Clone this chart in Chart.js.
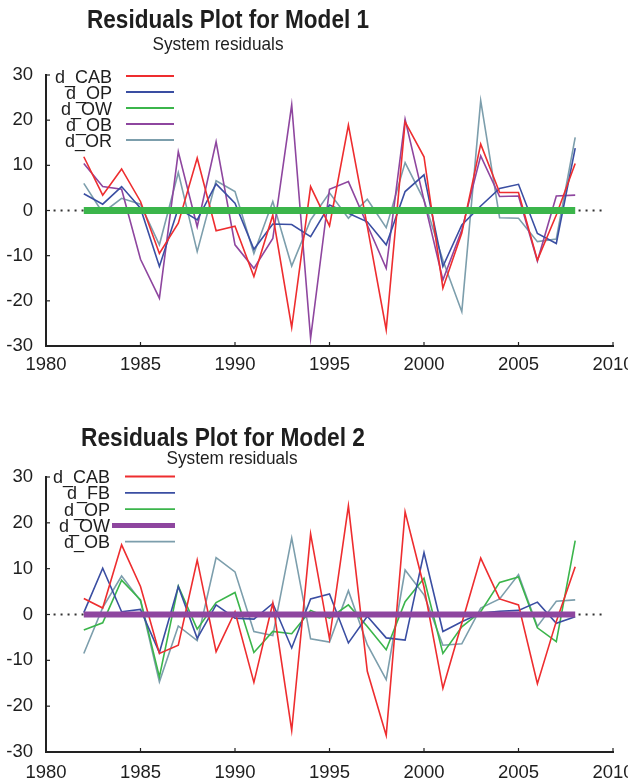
<!DOCTYPE html>
<html>
<head>
<meta charset="utf-8">
<script src="https://cdn.jsdelivr.net/npm/chart.js@4.4.1/dist/chart.umd.min.js"></script>
<style>
  body { margin: 0; background: #fff; }
  canvas { display: block; }
</style>
</head>
<body>
<canvas id="model1" width="628" height="390"></canvas>
<canvas id="model2" width="628" height="391"></canvas>
<script>
// years on the x axis
const years = [1982, 1983, 1984, 1985, 1986, 1987, 1988, 1989, 1990, 1991, 1992, 1993, 1994, 1995,
  1996, 1997, 1998, 1999, 2000, 2001, 2002, 2003, 2004, 2005, 2006, 2007, 2008];

// Model 1 residuals
const m1Cab = [11.9, 3.4, 9.2, 2.0, -9.5, -2.8, 11.6, -4.5, -3.5, -14.6, -1.0, -25.9, 5.3, -3.4, 18.9, -3.5, -26.4, 19.6, 11.9, -17.2, -5.0, 14.7, 4.0, 4.0, -11.0, -1.0, 10.4];
const m1Op = [3.7, 1.4, 5.3, 0.5, -12.4, 0.5, -2.1, 5.9, 1.6, -8.6, -3.0, -3.1, -5.8, 1.2, -0.6, -2.5, -7.6, 4.2, 7.9, -12.4, -3.2, 1.0, 4.9, 5.8, -5.1, -7.3, 13.8];
const m1Ow = [0, 0, 0, 0, 0, 0, 0, 0, 0, 0, 0, 0, 0, 0, 0, 0, 0, 0, 0, 0, 0, 0, 0, 0, 0, 0, 0];
const m1Ob = [10.4, 5.3, 4.7, -10.8, -19.4, 13.0, -3.6, 15.2, -7.6, -12.8, -6.2, 23.4, -28.3, 4.7, 6.4, -3.2, -12.8, 20.2, 2.3, -15.4, -4.3, 12.1, 3.1, 3.2, -11.2, 3.2, 3.4];
const m1Or = [6.0, -0.5, 2.7, 1.4, -7.6, 8.4, -9.1, 6.6, 4.2, -9.5, 2.0, -12.3, -2.1, 3.9, -1.7, 2.5, -3.8, 10.6, 2.3, -11.0, -22.4, 24.3, -1.6, -1.7, -6.9, -6.3, 16.2];

// Model 2 residuals
const m2Cab = [3.5, 1.4, 15.2, 6.1, -8.5, -6.7, 11.9, -8.1, 0.6, -14.8, 2.5, -25.3, 17.6, -5.3, 23.7, -12.4, -26.4, 22.4, 6.0, -16.1, -1.9, 12.3, 3.4, 2.1, -15.1, -1.5, 10.4];
const m2Fb = [0.4, 10.1, 0.6, 1.1, -8.3, 6.1, -5.2, 2.1, -0.8, -1.0, 2.4, -7.3, 3.4, 4.5, -6.2, -0.4, -5.1, -5.6, 13.5, -3.7, -1.6, 0.3, 0.7, 0.9, 2.7, -1.9, -0.5];
const m2Op = [-3.4, -1.8, 7.5, 3.2, -13.6, 6.2, -3.2, 2.6, 4.8, -8.3, -3.7, -4.2, 0.9, -0.8, 2.1, -2.6, -7.7, 2.8, 7.9, -8.5, -2.7, 0.6, 7.0, 8.2, -2.9, -5.9, 16.1];
const m2Ow = [0, 0, 0, 0, 0, 0, 0, 0, 0, 0, 0, 0, 0, 0, 0, 0, 0, 0, 0, 0, 0, 0, 0, 0, 0, 0, 0];
const m2Ob = [-8.5, 1.5, 8.4, 3.0, -14.7, -2.5, -5.7, 12.4, 9.3, -3.7, -4.6, 16.7, -5.3, -6.0, 5.2, -6.6, -14.2, 9.7, 4.3, -6.7, -6.4, 1.4, 3.4, 8.7, -2.6, 2.9, 3.2];

// dotted zero reference line, start and end year
const zeroSpan = [1980.4, 2009.5];

const xRange = [1980, 2010];
const yRange = [-30, 30];

const red = '#ee2d2f';
const blue = '#3a4ea2';
const green = '#3bb54b';
const purple = '#8e469f';
const grey = '#7c9eac';
const fontName = '"Liberation Sans", Arial, sans-serif';

function pontos(valores) {
  return valores.map((v, i) => ({ x: years[i], y: v }));
}

function linha(label, valores, cor, largura, ordem) {
  return {
    label: label,
    data: pontos(valores),
    borderColor: cor,
    borderWidth: largura,
    borderCapStyle: 'butt',
    pointRadius: 0,
    tension: 0,
    fill: false,
    order: ordem
  };
}

// text squeezed to the width it has in the picture
function textoAjustado(ctx, texto, cx, base, peso, tamanho, largura) {
  ctx.font = peso + ' ' + tamanho + 'px ' + fontName;
  const w = ctx.measureText(texto).width;
  ctx.save();
  ctx.translate(cx, base);
  ctx.scale(largura / w, 1);
  ctx.textAlign = 'center';
  ctx.textBaseline = 'alphabetic';
  ctx.fillText(texto, 0, 0);
  ctx.restore();
}

const painelTexto = {
  id: 'painelTexto',
  afterDraw(chart, args, opts) {
    const ctx = chart.ctx;
    ctx.save();
    ctx.fillStyle = '#1e1e1e';
    textoAjustado(ctx, opts.title, opts.titleX, opts.titleBase, 'bold', 26, opts.titleW);
    textoAjustado(ctx, opts.sub, opts.subX, opts.subBase, 'normal', 19, opts.subW);

    // legend, text right aligned and line sample to the right
    ctx.font = '18px ' + fontName;
    ctx.textAlign = 'right';
    ctx.textBaseline = 'alphabetic';
    opts.legend.forEach((item, i) => {
      const ds = chart.data.datasets[item.ds];
      const base = opts.legendTop + i * opts.legendStep;
      ctx.fillStyle = '#1e1e1e';
      ctx.fillText(ds.label, opts.legendX, base);
      ctx.strokeStyle = ds.borderColor;
      ctx.lineWidth = item.width;
      ctx.lineCap = 'butt';
      ctx.beginPath();
      ctx.moveTo(item.from, base - 6.5);
      ctx.lineTo(opts.lineTo, base - 6.5);
      ctx.stroke();
    });

    // small inward ticks
    const x = chart.scales.x;
    const y = chart.scales.y;
    ctx.strokeStyle = '#222';
    ctx.lineWidth = 1.2;
    x.ticks.forEach(t => {
      const px = x.getPixelForValue(t.value);
      ctx.beginPath();
      ctx.moveTo(px, y.bottom);
      ctx.lineTo(px, y.bottom - 4);
      ctx.stroke();
    });
    y.ticks.forEach(t => {
      const py = y.getPixelForValue(t.value);
      ctx.beginPath();
      ctx.moveTo(x.left, py);
      ctx.lineTo(x.left + 4, py);
      ctx.stroke();
    });
    ctx.restore();
  }
};

function criarPainel(id, series, p) {
  const datasets = series.map(s => linha(s[0], s[1], s[2], s[3], s[4]));
  datasets.push({
    label: 'zero',
    data: [{ x: zeroSpan[0], y: 0 }, { x: zeroSpan[1], y: 0 }],
    borderColor: '#333',
    borderWidth: 2,
    borderDash: [2, 5],
    pointRadius: 0,
    fill: false,
    order: 9
  });

  return new Chart(document.getElementById(id), {
    type: 'line',
    data: { datasets: datasets },
    plugins: [painelTexto],
    options: {
      responsive: false,
      animation: false,
      layout: { padding: { top: p.top, right: 15, left: 0, bottom: 0 } },
      plugins: {
        legend: { display: false },
        tooltip: { enabled: false },
        painelTexto: p.text
      },
      scales: {
        x: {
          type: 'linear',
          min: xRange[0],
          max: xRange[1],
          grid: { display: true, drawOnChartArea: false, drawTicks: false },
          border: { display: true, color: '#222', width: 2 },
          ticks: {
            stepSize: 5,
            padding: p.xPad,
            maxRotation: 0,
            autoSkip: false,
            color: '#1e1e1e',
            font: { family: fontName, size: 18.5 },
            callback: v => String(v)
          },
          afterFit: s => { s.height = p.xHeight; s.paddingLeft = 0; s.paddingRight = 0; }
        },
        y: {
          min: yRange[0],
          max: yRange[1],
          grid: { display: true, drawOnChartArea: false, drawTicks: false },
          border: { display: true, color: '#222', width: 2 },
          ticks: {
            stepSize: 10,
            padding: 13,
            color: '#1e1e1e',
            font: { family: fontName, size: 18.5 },
            callback: v => String(v)
          },
          afterFit: s => { s.width = 46; s.paddingTop = 0; s.paddingBottom = 0; }
        }
      }
    }
  });
}

// Model 1
criarPainel('model1', [
  ['d_OW', m1Ow, green, 7, 0],
  ['d_CAB', m1Cab, red, 1.6, 1],
  ['d_OP', m1Op, blue, 1.6, 1],
  ['d_OB', m1Ob, purple, 1.6, 1],
  ['d_OR', m1Or, grey, 1.6, 1]
], {
  top: 75, xHeight: 44, xPad: 8,
  text: {
    title: 'Residuals Plot for Model 1', titleX: 228, titleBase: 28, titleW: 282,
    sub: 'System residuals', subX: 218, subBase: 50, subW: 131,
    legendX: 112, legendTop: 82.5, legendStep: 16, lineTo: 174,
    legend: [
      { ds: 1, from: 126, width: 1.8 },
      { ds: 2, from: 126, width: 1.8 },
      { ds: 0, from: 126, width: 1.8 },
      { ds: 3, from: 126, width: 1.8 },
      { ds: 4, from: 126, width: 1.8 }
    ]
  }
});

// Model 2
criarPainel('model2', [
  ['d_OW', m2Ow, purple, 6, 0],
  ['d_CAB', m2Cab, red, 1.6, 1],
  ['d_FB', m2Fb, blue, 1.6, 1],
  ['d_OP', m2Op, green, 1.6, 1],
  ['d_OB', m2Ob, grey, 1.6, 1]
], {
  top: 87, xHeight: 29, xPad: 10,
  text: {
    title: 'Residuals Plot for Model 2', titleX: 223, titleBase: 56, titleW: 284,
    sub: 'System residuals', subX: 232, subBase: 74, subW: 131,
    legendX: 110, legendTop: 93, legendStep: 16.3, lineTo: 175,
    legend: [
      { ds: 1, from: 125, width: 1.8 },
      { ds: 2, from: 125, width: 1.8 },
      { ds: 3, from: 125, width: 1.8 },
      { ds: 0, from: 112, width: 5 },
      { ds: 4, from: 125, width: 1.8 }
    ]
  }
});
</script>
</body>
</html>
